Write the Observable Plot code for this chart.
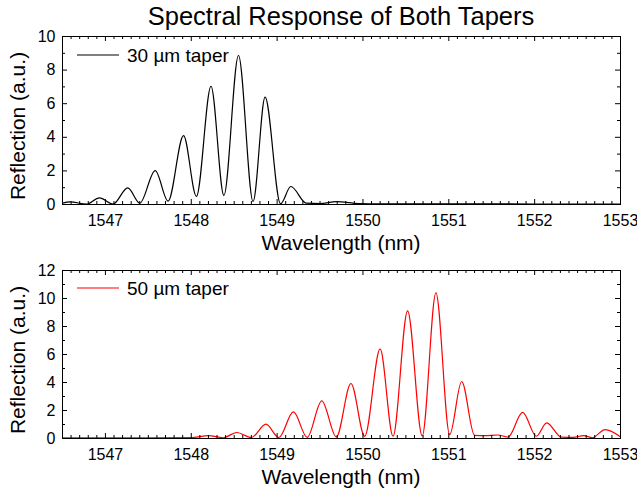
<!DOCTYPE html>
<html>
<head>
<meta charset="utf-8">
<script src="https://cdn.jsdelivr.net/npm/d3@7"></script>
<script src="https://cdn.jsdelivr.net/npm/@observablehq/plot@0.6"></script>
<style>
  html, body { margin: 0; padding: 0; background: #fff; }
  body { width: 637px; height: 494px; overflow: hidden; font-family: "Liberation Sans", Arial, sans-serif; }
  #title { height: 30px; width: 637px; position: relative; }
  #title span { position: absolute; left: 341px; transform: translateX(-50%); top: 4px; font-size: 25.5px; line-height: 25px; white-space: nowrap; color: #000; }
  svg { display: block; }
</style>
</head>
<body>
<div id="title"><span>Spectral Response of Both Tapers</span></div>
<div id="charts"></div>
<script>
// ---- Data ----
const chartTitle = "Spectral Response of Both Tapers";
const xLabel = "Wavelength (nm)";
const yLabel = "Reflection (a.u.)";
const legend30 = "30 µm taper";
const legend50 = "50 µm taper";

const xDomain = [1546.5, 1553];
const xTickLabels = [1547, 1548, 1549, 1550, 1551, 1552, 1553];
const yTicksTop = [0, 2, 4, 6, 8, 10];
const yTicksBottom = [0, 2, 4, 6, 8, 10, 12];

// 30 µm taper (black): wavelength (nm) and reflection (a.u.)
const wl30 = [1546.50, 1546.59, 1546.78, 1546.93, 1547.09, 1547.26, 1547.40, 1547.58, 1547.73, 1547.91,
              1548.06, 1548.23, 1548.38, 1548.55, 1548.72, 1548.86, 1549.04, 1549.16, 1549.34, 1549.50,
              1549.69, 1549.95, 1550.20, 1551.00, 1552.00, 1553.00];
const r30  = [0.08, 0.16, 0.02, 0.40, 0.03, 0.99, 0.08, 2.02, 0.20, 4.10,
              0.48, 7.04, 0.54, 8.87, 0.18, 6.39, 0.04, 1.07, 0.08, 0.06,
              0.17, 0.06, 0.04, 0.04, 0.03, 0.03];

// 50 µm taper (red)
const wl50 = [1546.50, 1547.50, 1548.00, 1548.20, 1548.37, 1548.53, 1548.70, 1548.87, 1549.02, 1549.19,
              1549.35, 1549.52, 1549.69, 1549.86, 1550.02, 1550.20, 1550.35, 1550.52, 1550.69, 1550.85,
              1551.01, 1551.15, 1551.30, 1551.42, 1551.57, 1551.69, 1551.86, 1552.02, 1552.14, 1552.31,
              1552.45, 1552.57, 1552.67, 1552.82, 1553.00];
const r50  = [0.05, 0.05, 0.06, 0.21, 0.05, 0.43, 0.07, 1.02, 0.07, 1.90,
              0.08, 2.69, 0.11, 3.93, 0.15, 6.40, 0.16, 9.12, 0.18, 10.40,
              0.28, 4.07, 0.22, 0.20, 0.25, 0.10, 1.86, 0.16, 1.12, 0.10,
              0.08, 0.20, 0.06, 0.64, 0.12];

// ---- Build ----
const FONT = '"Liberation Sans", Arial, sans-serif';
const W = 637, ML = 62, MR = 17, FRAME_H = 168;

const xMinor = d3.range(15465, 15531, 1).map(v => v / 10).filter(v => !xTickLabels.includes(v));

function panel({wl, r, color, yMax, yTicks, legend, height, marginTop, marginBottom, legendY}) {
  const data = wl.map((w, i) => ({w, r: r[i]}));
  const yMinor = d3.range(1, yMax, 2);
  const innerW = W - ML - MR;
  const plot = Plot.plot({
    width: W,
    height,
    marginLeft: ML,
    marginRight: MR,
    marginTop,
    marginBottom,
    style: {fontFamily: FONT, background: "#fff", color: "#000", overflow: "visible"},
    x: {domain: xDomain, label: null},
    y: {domain: [0, yMax], label: null},
    marks: [
      Plot.line(data, {x: "w", y: "r", stroke: color, strokeWidth: 1.2, curve: "monotone-x"}),
      // inward ticks: bottom & top
      Plot.tickX(xTickLabels, {x: d => d, insetTop: FRAME_H - 5, stroke: "#000"}),
      Plot.tickX(xMinor, {x: d => d, insetTop: FRAME_H - 3, stroke: "#000"}),
      Plot.tickX(xTickLabels, {x: d => d, insetBottom: FRAME_H - 5, stroke: "#000"}),
      Plot.tickX(xMinor, {x: d => d, insetBottom: FRAME_H - 3, stroke: "#000"}),
      // inward ticks: left & right
      Plot.tickY(yTicks, {y: d => d, insetRight: innerW - 5, stroke: "#000"}),
      Plot.tickY(yMinor, {y: d => d, insetRight: innerW - 3, stroke: "#000"}),
      Plot.tickY(yTicks, {y: d => d, insetLeft: innerW - 5, stroke: "#000"}),
      Plot.tickY(yMinor, {y: d => d, insetLeft: innerW - 3, stroke: "#000"}),
      Plot.frame({stroke: "#000", strokeWidth: 1}),
      Plot.axisX({ticks: xTickLabels, tickFormat: d => String(d), tickSize: 0, tickPadding: 10, fontSize: 16, label: null}),
      Plot.axisY({ticks: yTicks, tickFormat: d => String(d), tickSize: 0, tickPadding: 7, fontSize: 16, label: null})
    ]
  });
  const svg = d3.select(plot);
  const frameMidX = ML + innerW / 2;
  const frameMidY = marginTop + FRAME_H / 2;
  const frameBottom = marginTop + FRAME_H;
  const g = svg.append("g").attr("font-family", FONT).attr("fill", "#000");
  // axis titles
  g.append("text").attr("x", frameMidX).attr("y", frameBottom + 39).attr("dy", "0.35em")
    .attr("text-anchor", "middle").attr("font-size", 21).text(xLabel);
  g.append("text").attr("transform", `translate(18,${frameMidY + 6}) rotate(-90)`).attr("dy", "0.35em")
    .attr("text-anchor", "middle").attr("font-size", 21).text(yLabel);
  // legend
  g.append("line").attr("x1", 77).attr("x2", 119).attr("y1", legendY).attr("y2", legendY)
    .attr("stroke", color).attr("stroke-width", 1.2);
  g.append("text").attr("x", 127).attr("y", legendY).attr("dy", "0.35em").attr("text-anchor", "start")
    .attr("font-size", 19).text(legend);
  return plot;
}

const charts = document.getElementById("charts");
charts.appendChild(panel({wl: wl30, r: r30, color: "#000000", yMax: 10, yTicks: yTicksTop, legend: legend30,
  height: 222, marginTop: 6, marginBottom: 48, legendY: 25}));
charts.appendChild(panel({wl: wl50, r: r50, color: "#ff0000", yMax: 12, yTicks: yTicksBottom, legend: legend50,
  height: 242, marginTop: 18, marginBottom: 56, legendY: 36}));
</script>
</body>
</html>
